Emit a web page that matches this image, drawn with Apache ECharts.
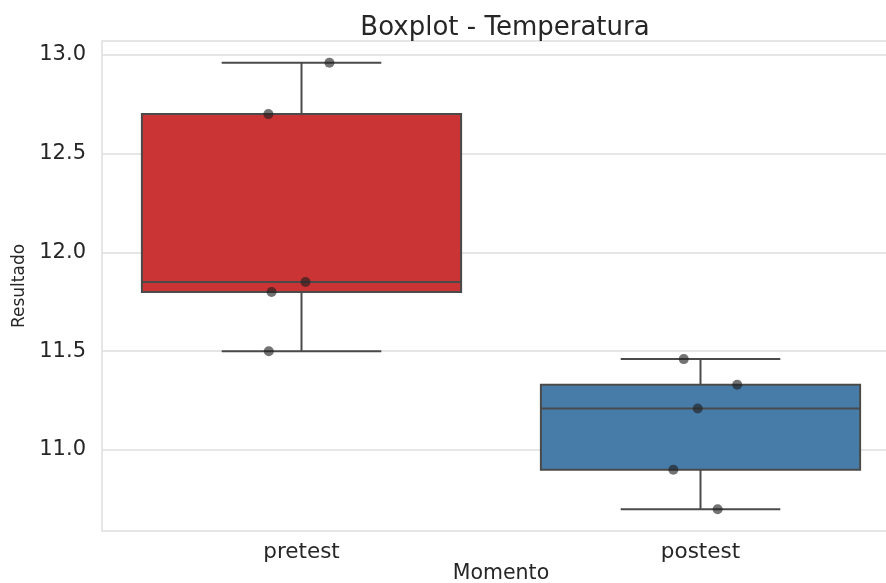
<!DOCTYPE html>
<html>
<head>
<meta charset="utf-8">
<script src="https://cdn.jsdelivr.net/npm/echarts@6/dist/echarts.min.js"></script>
<style>
  html, body { margin: 0; padding: 0; background: #ffffff; overflow: hidden; }
  /* the plotting area runs a little past the right edge of the window */
  #chart { width: 900px; height: 583px; }
</style>
</head>
<body>
<div id="chart"></div>
<script>
// Measurements per moment
const categories = ['pretest', 'postest'];
const pretestValues = [12.96, 12.70, 11.85, 11.80, 11.50];
const postestValues = [11.46, 11.33, 11.21, 10.90, 10.70];
// Strip-plot jitter of each observation, in category-width units
const pretestJitter = [0.070, -0.083, 0.010, -0.075, -0.082];
const postestJitter = [-0.042, 0.092, -0.007, -0.068, 0.043];
// Y axis tick labels
const yTicks = [11.0, 11.5, 12.0, 12.5, 13.0];

const groups = [pretestValues, postestValues];
const jitters = [pretestJitter, postestJitter];
const boxColors = ['#ca3435', '#477ca8'];
const lineColor = '#4a4a4a';
const textColor = '#262626';
const gridColor = '#dedede';
const font = 'DejaVu Sans';

// Linear-interpolated quantile (same rule as numpy's default)
function quantile(sorted, p) {
  const pos = (sorted.length - 1) * p;
  const lo = Math.floor(pos), hi = Math.ceil(pos);
  return sorted[lo] + (sorted[hi] - sorted[lo]) * (pos - lo);
}

// Five-number summary with 1.5 IQR whiskers
const boxData = groups.map((vals, i) => {
  const s = vals.slice().sort((a, b) => a - b);
  const q1 = quantile(s, 0.25), med = quantile(s, 0.5), q3 = quantile(s, 0.75);
  const iqr = q3 - q1;
  const inside = s.filter(v => v >= q1 - 1.5 * iqr && v <= q3 + 1.5 * iqr);
  return [i, inside[0], q1, med, q3, inside[inside.length - 1]];
});

const pointData = [];
groups.forEach((vals, i) => {
  vals.forEach((v, k) => pointData.push([i + jitters[i][k], v]));
});

const chart = echarts.init(document.getElementById('chart'), null, { renderer: 'canvas' });

chart.setOption({
  animation: false,
  backgroundColor: '#ffffff',
  title: {
    text: 'Boxplot - Temperatura',
    left: 500,
    textAlign: 'center',
    top: 10,
    textStyle: { fontFamily: font, fontSize: 26, fontWeight: 'normal', color: textColor }
  },
  grid: {
    left: 102,
    right: 0,
    top: 41,
    bottom: 52,
    outerBoundsMode: 'none',
    containLabel: false,
    show: true,
    borderColor: gridColor,
    borderWidth: 1.5,
    backgroundColor: 'transparent'
  },
  xAxis: [
    {
      type: 'category',
      data: categories,
      boundaryGap: true,
      name: 'Momento',
      nameLocation: 'middle',
      nameGap: 32,
      nameMoveOverlap: false,
      nameTextStyle: { fontFamily: font, fontSize: 20.5, color: textColor },
      axisLine: { show: false },
      axisTick: { show: false },
      splitLine: { show: false },
      axisLabel: { fontFamily: font, fontSize: 21.5, color: textColor, margin: 10 }
    },
    {
      type: 'value',
      min: -0.5,
      max: 1.5,
      show: false
    }
  ],
  yAxis: {
    type: 'value',
    min: 10.59,
    max: 13.07,
    name: 'Resultado',
    nameLocation: 'middle',
    nameGap: 74,
    nameRotate: 90,
    nameMoveOverlap: false,
    nameTextStyle: { fontFamily: font, fontSize: 17, color: textColor },
    axisLine: { show: false },
    axisTick: { show: false, customValues: yTicks },
    axisLabel: {
      customValues: yTicks,
      fontFamily: font,
      fontSize: 21,
      color: textColor,
      margin: 16,
      formatter: v => v.toFixed(1)
    },
    splitLine: { show: true, lineStyle: { color: gridColor, width: 1.5 } }
  },
  series: [
    {
      type: 'custom',
      xAxisIndex: 0,
      data: boxData,
      z: 2,
      renderItem: function (params, api) {
        const idx = api.value(0);
        const lo = api.value(1), q1 = api.value(2), med = api.value(3), q3 = api.value(4), hi = api.value(5);
        const cx = api.coord([idx, med])[0];
        const band = api.size([1, 0])[0];
        const boxHalf = band * 0.4;
        const capHalf = band * 0.2;
        const y = v => api.coord([idx, v])[1];
        const ls = { stroke: lineColor, lineWidth: 2 };
        return {
          type: 'group',
          children: [
            { type: 'line', shape: { x1: cx, y1: y(q3), x2: cx, y2: y(hi) }, style: ls },
            { type: 'line', shape: { x1: cx, y1: y(q1), x2: cx, y2: y(lo) }, style: ls },
            { type: 'line', shape: { x1: cx - capHalf, y1: y(hi), x2: cx + capHalf, y2: y(hi) }, style: ls },
            { type: 'line', shape: { x1: cx - capHalf, y1: y(lo), x2: cx + capHalf, y2: y(lo) }, style: ls },
            {
              type: 'rect',
              shape: { x: cx - boxHalf, y: y(q3), width: boxHalf * 2, height: y(q1) - y(q3) },
              style: { fill: boxColors[idx], stroke: lineColor, lineWidth: 2 }
            },
            { type: 'line', shape: { x1: cx - boxHalf, y1: y(med), x2: cx + boxHalf, y2: y(med) }, style: ls }
          ]
        };
      }
    },
    {
      type: 'scatter',
      xAxisIndex: 1,
      data: pointData,
      z: 3,
      symbol: 'circle',
      symbolSize: 10,
      itemStyle: { color: 'rgba(30,30,30,0.78)' }
    }
  ]
});
</script>
</body>
</html>
